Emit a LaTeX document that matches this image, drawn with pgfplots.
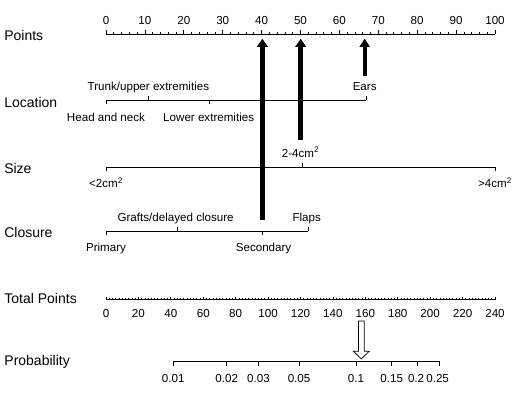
\documentclass[border=0pt]{standalone}
\usepackage{pgfplots}
\pgfplotsset{compat=1.18}
\usepackage{fontspec}
\setmainfont{Liberation Sans}
\usetikzlibrary{arrows.meta}
\newcommand{\rowfont}{\fontsize{14bp}{16bp}\selectfont}
\newcommand{\smallfont}{\fontsize{11.6bp}{13bp}\selectfont}
\tikzset{lab/.style={font=\smallfont, anchor=base, inner sep=0pt},
  row/.style={font=\rowfont, anchor=base west, inner sep=0pt}}
\pgfplotsset{nomo/.style={scale only axis, width=516bp, height=397bp,
  ymin=0, ymax=397, y dir=reverse, hide axis, clip=false,
  at={(0,0)}, anchor=south west},
  sc/.style={black, line width=0.75bp, mark=none, forget plot}}
\begin{document}
\begin{tikzpicture}
\useasboundingbox (0,0) rectangle (516bp,397bp);
% ---------- upper part: scales in "Points" units ----------
\begin{axis}[nomo, xmin=-27.25, xmax=105.40]
% Points
\addplot[sc] coordinates {(0,34.3) (100,34.3)};
\pgfplotsinvokeforeach{0,2,...,100}{\addplot[sc] coordinates {(#1,34.3) (#1,32)};}
\pgfplotsinvokeforeach{0,10,...,100}{\addplot[sc] coordinates {(#1,34.3) (#1,30.5)};
  \node[lab] at (axis cs:#1,25) {#1};}
\node[row] at (axis cs:-26.2,40.3) {Points};
% Location
\addplot[sc] coordinates {(0,100) (66.9,100)};
\addplot[sc] coordinates {(0,100) (0,104)};
\addplot[sc] coordinates {(10.9,100) (10.9,96)};
\addplot[sc] coordinates {(26.6,100) (26.6,104)};
\addplot[sc] coordinates {(66.9,100) (66.9,96)};
\node[lab] at (axis cs:10.9,90.5) {Trunk/upper extremities};
\node[lab] at (axis cs:0,121.5) {Head and neck};
\node[lab] at (axis cs:26.4,121.5) {Lower extremities};
\node[lab] at (axis cs:66.5,90.5) {Ears};
\node[row] at (axis cs:-26.2,107.7) {Location};
% Size
\addplot[sc] coordinates {(0,167.3) (100,167.3)};
\addplot[sc] coordinates {(0,167.3) (0,171.3)};
\addplot[sc] coordinates {(50.6,167.3) (50.6,163.3)};
\addplot[sc] coordinates {(100,167.3) (100,171.3)};
\node[lab] at (axis cs:0,188) {<2cm\textsuperscript{2}};
\node[lab] at (axis cs:50,157.3) {2-4cm\textsuperscript{2}};
\node[lab] at (axis cs:100,188) {>4cm\textsuperscript{2}};
\node[row] at (axis cs:-26.2,173.3) {Size};
% Closure
\addplot[sc] coordinates {(0,231) (52,231)};
\addplot[sc] coordinates {(0,231) (0,235)};
\addplot[sc] coordinates {(18.4,231) (18.4,227)};
\addplot[sc] coordinates {(40.3,231) (40.3,235)};
\addplot[sc] coordinates {(52,231) (52,227)};
\node[lab] at (axis cs:17.9,221.3) {Grafts/delayed closure};
\node[lab] at (axis cs:51.6,221.3) {Flaps};
\node[lab] at (axis cs:0,251.7) {Primary};
\node[lab] at (axis cs:40.5,251.7) {Secondary};
\node[row] at (axis cs:-26.2,237.3) {Closure};
% Arrows: points of the chosen categories
\addplot[black, line width=5.6bp, -{Triangle[width=11bp,length=8bp,line width=0pt]}, forget plot] coordinates {(40.2,219.5) (40.2,38.8)};
\addplot[black, line width=5.6bp, -{Triangle[width=11bp,length=8bp,line width=0pt]}, forget plot] coordinates {(50.05,140) (50.05,38.8)};
\addplot[black, line width=3.8bp, -{Triangle[width=10.5bp,length=8bp,line width=0pt]}, forget plot] coordinates {(66.5,76.5) (66.5,38.8)};
\end{axis}
% ---------- lower part: scales in "Total Points" units ----------
\begin{axis}[nomo, xmin=-65.40, xmax=252.96]
% Total Points
\addplot[sc] coordinates {(0,299.7) (240,299.7)};
\pgfplotsinvokeforeach{0,2,...,240}{\addplot[sc] coordinates {(#1,299.7) (#1,298.2)};}
\pgfplotsinvokeforeach{0,20,...,240}{\addplot[sc] coordinates {(#1,299.7) (#1,296.5)};
  \node[lab] at (axis cs:#1,317.7) {#1};}
\node[row] at (axis cs:-62.8,303.3) {Total Points};
% Probability (tick positions on the total-points scale)
\addplot[sc] coordinates {(41.5,361.7) (205.8,361.7)};
\addplot[sc] coordinates {(41.5,361.7) (41.5,366)};
\addplot[sc] coordinates {(74.5,361.7) (74.5,366)};
\addplot[sc] coordinates {(94.1,361.7) (94.1,366)};
\addplot[sc] coordinates {(119.1,361.7) (119.1,366)};
\addplot[sc] coordinates {(154.2,361.7) (154.2,366)};
\addplot[sc] coordinates {(175.9,361.7) (175.9,366)};
\addplot[sc] coordinates {(192.3,361.7) (192.3,366)};
\addplot[sc] coordinates {(205.8,361.7) (205.8,366)};
\node[lab] at (axis cs:41.5,382.7) {0.01};
\node[lab] at (axis cs:74.5,382.7) {0.02};
\node[lab] at (axis cs:94.1,382.7) {0.03};
\node[lab] at (axis cs:119.1,382.7) {0.05};
\node[lab] at (axis cs:154.2,382.7) {0.1};
\node[lab] at (axis cs:176.3,382.7) {0.15};
\node[lab] at (axis cs:191.3,382.7) {0.2};
\node[lab] at (axis cs:204.6,382.7) {0.25};
\node[row] at (axis cs:-62.8,365.7) {Probability};
% hollow arrow: total points 157.5 -> probability
\addplot[black, line width=0.75bp, fill=white, forget plot] coordinates {
  (155.74,321) (159.26,321) (159.26,351.2) (162.44,351.2) (157.5,358.8)
  (152.56,351.2) (155.74,351.2)} -- cycle;
\end{axis}
\end{tikzpicture}
\end{document}
